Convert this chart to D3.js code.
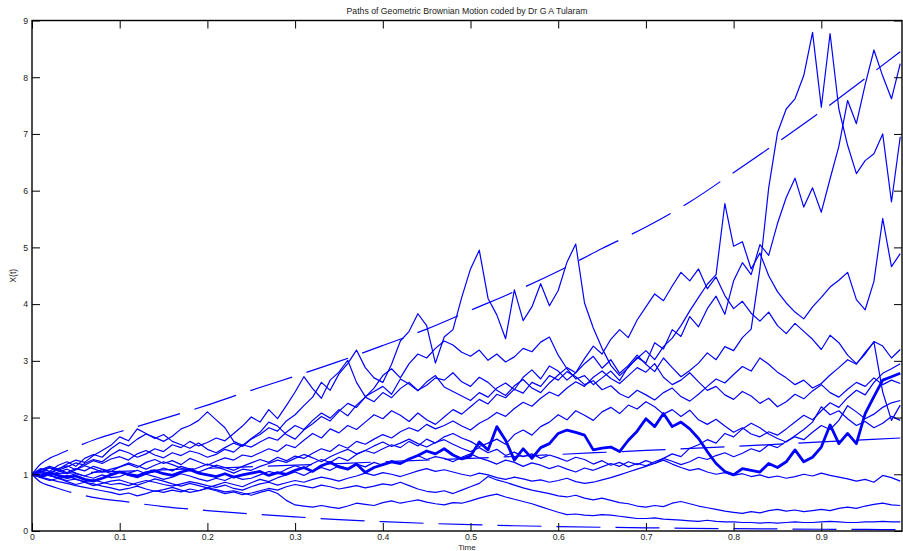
<!DOCTYPE html>
<html>
<head>
<meta charset="utf-8">
<script src="https://cdn.jsdelivr.net/npm/d3@7"></script>
<style>
  body { margin: 0; background: #ffffff; }
  #vis { width: 903px; height: 551px; overflow: hidden; }
</style>
</head>
<body>
<div id="vis"></div>
<script>
// sample step of every path (t = i * dt)
const dt = 0.01

// paths, one value per 0.01 of time
const pathThick = [
  1.00, 0.97, 1.03, 0.98, 0.94, 0.97, 0.91, 0.88, 0.93, 0.99,
  1.04, 1.00, 0.97, 1.03, 1.06, 1.01, 0.98, 1.04, 1.08, 1.02,
  0.99, 0.96, 1.01, 0.95, 0.99, 1.02, 1.05, 0.98, 1.03, 1.00,
  1.07, 1.12, 1.05, 1.15, 1.21, 1.13, 1.09, 1.18, 1.03, 1.12,
  1.17, 1.22, 1.19, 1.27, 1.33, 1.41, 1.36, 1.45, 1.34, 1.27,
  1.32, 1.57, 1.43, 1.84, 1.60, 1.25, 1.45, 1.28, 1.47, 1.54,
  1.72, 1.78, 1.74, 1.69, 1.43, 1.46, 1.48, 1.40, 1.60, 1.76,
  1.98, 1.84, 2.07, 1.84, 1.92, 1.80, 1.63, 1.40, 1.19, 1.05,
  0.99, 1.10, 1.07, 1.04, 1.19, 1.12, 1.22, 1.43, 1.22, 1.30,
  1.48, 1.87, 1.54, 1.72, 1.54, 2.07, 2.37, 2.66, 2.72, 2.78
]
const pathLowest = [
  1.00, 0.95, 0.91, 0.87, 0.84, 0.80, 0.77, 0.74, 0.71, 0.68,
  0.64, 0.67, 0.62, 0.66, 0.71, 0.68, 0.72, 0.69, 0.74, 0.71,
  0.76, 0.73, 0.69, 0.71, 0.67, 0.63, 0.68, 0.72, 0.66, 0.54,
  0.46, 0.44, 0.42, 0.45, 0.42, 0.40, 0.44, 0.49, 0.47, 0.45,
  0.50, 0.53, 0.49, 0.52, 0.55, 0.51, 0.48, 0.46, 0.50, 0.49,
  0.53, 0.58, 0.62, 0.65, 0.60, 0.56, 0.52, 0.48, 0.43, 0.38,
  0.33, 0.29, 0.30, 0.28, 0.27, 0.29, 0.28, 0.26, 0.24, 0.22,
  0.22, 0.23, 0.21, 0.20, 0.19, 0.18, 0.17, 0.19, 0.17, 0.16,
  0.16, 0.15, 0.15, 0.14, 0.15, 0.14, 0.15, 0.16, 0.15, 0.15,
  0.16, 0.17, 0.16, 0.15, 0.15, 0.16, 0.16, 0.17, 0.16, 0.16
]
const pathLow = [
  1.00, 0.96, 0.99, 0.93, 0.89, 0.92, 0.86, 0.83, 0.79, 0.76,
  0.72, 0.75, 0.79, 0.74, 0.70, 0.73, 0.77, 0.72, 0.68, 0.71,
  0.75, 0.71, 0.66, 0.69, 0.64, 0.67, 0.71, 0.75, 0.72, 0.78,
  0.82, 0.79, 0.76, 0.81, 0.78, 0.74, 0.77, 0.80, 0.76, 0.79,
  0.83, 0.81, 0.86, 0.80, 0.74, 0.70, 0.68, 0.71, 0.66, 0.72,
  0.78, 0.84, 0.96, 0.90, 0.86, 0.81, 0.76, 0.72, 0.69, 0.66,
  0.62, 0.60, 0.63, 0.58, 0.55, 0.58, 0.54, 0.50, 0.48, 0.44,
  0.42, 0.45, 0.43, 0.49, 0.52, 0.48, 0.44, 0.41, 0.38, 0.35,
  0.33, 0.31, 0.34, 0.32, 0.36, 0.38, 0.35, 0.37, 0.34, 0.36,
  0.38, 0.36, 0.40, 0.42, 0.40, 0.44, 0.47, 0.49, 0.46, 0.45
]
const pathNearOne = [
  1.00, 1.03, 0.97, 0.94, 0.98, 0.91, 0.87, 0.90, 0.86, 0.82,
  0.84, 0.80, 0.85, 0.89, 0.86, 0.82, 0.79, 0.83, 0.87, 0.84,
  0.80, 0.77, 0.81, 0.75, 0.72, 0.78, 0.83, 0.86, 0.81, 0.85,
  0.89, 0.86, 0.91, 0.95, 0.92, 0.88, 0.93, 0.97, 1.02, 0.98,
  1.03, 1.00, 0.96, 1.01, 1.06, 1.10, 1.05, 1.08, 1.04, 1.00,
  0.97, 1.02, 0.99, 0.94, 0.91, 0.95, 0.92, 0.88, 0.90, 0.86,
  0.89, 0.93, 0.87, 0.84, 0.86, 0.90, 0.94, 0.99, 1.04, 1.09,
  1.14, 1.19, 1.25, 1.18, 1.12, 1.07, 1.10, 1.04, 1.00, 1.03,
  0.98, 1.01, 0.96, 0.99, 0.94, 0.97, 0.93, 0.96, 1.00, 0.97,
  1.02, 0.98, 0.95, 0.92, 0.88, 0.91, 0.86, 0.98, 0.94, 0.88
]
const pathTop = [
  1.00, 1.08, 1.14, 1.09, 1.18, 1.25, 1.21, 1.33, 1.42, 1.51,
  1.66, 1.59, 1.80, 1.72, 1.63, 1.70, 1.58, 1.52, 1.46, 1.55,
  1.44, 1.38, 1.47, 1.55, 1.49, 1.62, 1.70, 1.82, 1.76, 1.94,
  2.05, 2.21, 2.36, 2.62, 2.48, 2.77, 2.95, 3.19, 2.88, 2.70,
  2.62, 2.94, 3.35, 3.52, 3.83, 3.62, 2.96, 3.42, 3.55, 4.12,
  4.62, 4.95, 4.10, 3.81, 3.39, 4.25, 3.71, 3.95, 4.36, 3.97,
  4.24, 4.74, 5.06, 4.02, 3.58, 3.22, 2.92, 2.74, 2.88, 3.06,
  2.96, 3.32, 3.21, 3.55, 3.43, 3.78, 3.60, 3.92, 4.14, 3.82,
  4.41, 4.73, 4.52, 5.05, 4.86, 5.42, 5.88, 6.22, 5.71, 6.05,
  5.62, 6.21, 6.78, 7.59, 7.18, 7.87, 8.48, 8.02, 7.62, 8.24
]
const pathSpike = [
  1.00, 1.06, 1.02, 1.10, 1.15, 1.08, 1.19, 1.26, 1.22, 1.34,
  1.43, 1.38, 1.30, 1.36, 1.45, 1.40, 1.52, 1.47, 1.58, 1.50,
  1.56, 1.64, 1.59, 1.72, 1.85, 2.01, 1.92, 2.14, 1.98, 2.21,
  2.45, 2.72, 2.51, 2.34, 2.66, 2.80, 3.01, 2.62, 2.37, 2.46,
  2.55, 2.41, 2.68, 2.59, 2.47, 2.63, 2.74, 2.54, 2.46, 2.38,
  2.30, 2.44, 2.36, 2.52, 2.61, 2.49, 2.71, 2.84, 2.68, 2.91,
  2.82, 2.66, 2.79, 2.95, 3.08, 2.87, 3.02, 2.78, 2.92, 3.10,
  2.94, 2.81, 3.05, 2.88, 2.72, 2.83, 2.96, 3.14, 3.02, 3.25,
  3.18, 3.41, 3.56, 4.62, 6.05, 7.02, 7.44, 7.62, 8.03, 8.79,
  7.47, 8.77, 7.44, 6.80, 6.30, 6.53, 6.65, 7.00, 5.80, 6.95
]
const pathMid1 = [
  1.00, 1.10, 1.05, 1.16, 1.22, 1.14, 1.28, 1.35, 1.30, 1.45,
  1.56, 1.50, 1.62, 1.71, 1.65, 1.58, 1.67, 1.80, 1.86, 1.95,
  2.10, 1.96, 1.82, 1.58, 1.51, 1.63, 1.74, 1.92, 1.85, 1.70,
  1.62, 1.78, 1.89, 2.02, 1.94, 2.11, 2.25, 2.18, 2.36, 2.52,
  2.74, 2.86, 2.70, 2.95, 3.12, 3.05, 3.22, 3.35, 3.28, 3.15,
  3.08, 3.19, 3.01, 3.12, 2.98, 3.07, 3.22, 3.16, 3.33, 3.42,
  3.10, 2.86, 2.68, 2.74, 2.58, 2.70, 2.82, 2.65, 2.90, 3.04,
  3.18, 3.02, 3.25, 3.40, 3.62, 3.88, 4.12, 4.35, 4.52, 5.77,
  5.02, 5.10, 4.62, 4.90, 4.50, 4.22, 4.02, 3.86, 3.74, 3.95,
  4.12, 4.30, 4.42, 4.56, 4.08, 3.90, 4.40, 5.51, 4.66, 4.89
]
const pathMid2 = [
  1.00, 1.04, 1.11, 1.07, 1.13, 1.20, 1.16, 1.24, 1.19, 1.27,
  1.31, 1.25, 1.36, 1.42, 1.34, 1.29, 1.38, 1.33, 1.41, 1.37,
  1.30, 1.35, 1.44, 1.39, 1.52, 1.48, 1.57, 1.65, 1.60, 1.74,
  1.86, 1.79, 1.95, 2.08, 1.99, 2.14, 2.03, 2.22, 2.36, 2.28,
  2.44, 2.35, 2.51, 2.62, 2.48, 2.57, 2.70, 2.66, 2.79, 2.63,
  2.55, 2.71, 2.62, 2.48, 2.39, 2.56, 2.67, 2.52, 2.44, 2.61,
  2.75, 2.88, 2.79, 3.04, 3.26, 3.12, 3.38, 3.55, 3.41, 3.72,
  3.95, 4.18, 4.06, 4.32, 4.56, 4.41, 4.62, 4.27, 4.48, 4.15,
  3.92, 4.05, 3.84, 3.70, 3.86, 3.62, 3.48, 3.66, 3.52, 3.38,
  3.20, 3.45, 3.32, 3.10, 2.95, 3.12, 3.34, 3.26, 3.05, 3.20
]
const pathMid3 = [
  1.00, 0.96, 1.02, 1.08, 1.03, 1.10, 1.06, 1.14, 1.09, 1.05,
  1.13, 1.18, 1.12, 1.21, 1.26, 1.19, 1.24, 1.17, 1.28, 1.22,
  1.16, 1.23, 1.29, 1.25, 1.34, 1.31, 1.38, 1.45, 1.40, 1.52,
  1.47, 1.60, 1.72, 1.64, 1.80, 1.73, 1.86, 1.79, 1.92, 2.05,
  1.98, 2.12, 2.04, 1.93, 2.08, 1.96, 1.88, 2.01, 2.14, 2.06,
  2.19, 2.32, 2.24, 2.41, 2.35, 2.50, 2.43, 2.62, 2.55, 2.74,
  2.66, 2.81, 2.72, 2.58, 2.65, 2.49, 2.56, 2.42, 2.35, 2.48,
  2.40, 2.31, 2.44, 2.52, 2.37, 2.29, 2.41, 2.55, 2.68, 2.61,
  2.76, 2.90, 2.82, 3.05, 2.94, 2.80, 2.70, 2.58, 2.66, 2.52,
  2.60, 2.75, 2.88, 3.02, 2.94, 3.15, 3.33, 2.45, 1.95, 2.22
]
const pathMid4 = [
  1.00, 0.95, 0.99, 0.92, 0.96, 1.01, 0.97, 0.93, 0.99, 0.94,
  0.96, 1.02, 1.07, 1.01, 1.05, 1.11, 1.06, 1.14, 1.09, 1.04,
  1.10, 1.16, 1.12, 1.07, 1.14, 1.20, 1.26, 1.21, 1.30, 1.24,
  1.32, 1.28, 1.37, 1.45, 1.40, 1.52, 1.46, 1.58, 1.53, 1.62,
  1.70, 1.64, 1.75, 1.82, 1.76, 1.88, 1.80, 1.86, 1.94, 1.85,
  1.78, 1.90, 1.98, 2.09, 2.02, 2.16, 2.27, 2.20, 2.34, 2.45,
  2.38, 2.52, 2.63, 2.55, 2.71, 2.82, 2.69, 2.60, 2.74, 2.88,
  2.80, 2.95, 2.71, 2.58, 2.66, 2.79, 2.63, 2.48, 2.55, 2.40,
  2.32, 2.46, 2.38, 2.25, 2.34, 2.19, 2.28, 2.41, 2.33, 2.47,
  2.58, 2.44, 2.36, 2.50, 2.62, 2.55, 2.70, 2.58, 2.66, 2.60
]
const pathMid5 = [
  1.00, 1.05, 0.99, 1.04, 1.09, 1.02, 0.97, 1.03, 1.08, 1.01,
  1.04, 0.98, 0.94, 1.00, 0.96, 0.91, 0.95, 1.01, 0.97, 0.92,
  0.88, 0.93, 0.89, 0.96, 0.91, 0.93, 0.99, 1.05, 1.01, 1.09,
  1.15, 1.10, 1.19, 1.26, 1.21, 1.30, 1.24, 1.35, 1.42, 1.37,
  1.45, 1.52, 1.47, 1.58, 1.50, 1.62, 1.55, 1.66, 1.72, 1.64,
  1.58, 1.49, 1.55, 1.62, 1.53, 1.70, 1.78, 1.69, 1.84, 1.92,
  2.05, 1.96, 2.12, 2.04, 1.95, 2.10, 2.18, 2.07, 2.22, 2.15,
  2.28, 2.19, 2.06, 2.14, 2.02, 2.13, 1.96, 1.88, 1.97, 1.85,
  1.74, 1.82, 1.71, 1.66, 1.75, 1.69, 1.80, 1.92, 2.04, 1.96,
  2.12, 2.26, 2.18, 2.35, 2.48, 2.40, 2.62, 2.78, 2.86, 2.95
]
const pathMid6 = [
  1.00, 1.07, 1.12, 1.06, 1.01, 1.08, 1.15, 1.10, 1.04, 1.09,
  1.13, 1.20, 1.15, 1.09, 1.16, 1.22, 1.17, 1.11, 1.06, 1.12,
  1.18, 1.13, 1.08, 1.02, 1.09, 1.07, 1.14, 1.19, 1.25, 1.21,
  1.28, 1.35, 1.29, 1.22, 1.31, 1.38, 1.44, 1.36, 1.42, 1.50,
  1.57, 1.49, 1.55, 1.62, 1.54, 1.48, 1.56, 1.61, 1.53, 1.46,
  1.40, 1.47, 1.38, 1.44, 1.33, 1.39, 1.31, 1.36, 1.28, 1.34,
  1.29, 1.23, 1.30, 1.26, 1.18, 1.24, 1.16, 1.21, 1.13, 1.19,
  1.15, 1.22, 1.28, 1.36, 1.31, 1.46, 1.52, 1.61, 1.55, 1.72,
  1.66, 1.80, 1.90, 1.82, 1.71, 1.63, 1.57, 1.68, 1.79, 1.92,
  2.19, 2.05, 2.12, 1.98, 1.86, 1.93, 1.82, 1.90, 2.02, 1.95
]
const pathMid7 = [
  1.00, 0.94, 0.89, 0.93, 0.87, 0.82, 0.86, 0.80, 0.84, 0.88,
  0.90, 0.85, 0.81, 0.86, 0.92, 0.88, 0.83, 0.79, 0.84, 0.80,
  0.76, 0.81, 0.86, 0.82, 0.78, 0.85, 0.91, 0.87, 0.94, 0.99,
  1.04, 0.98, 1.06, 1.12, 1.07, 1.15, 1.10, 1.18, 1.13, 1.21,
  1.16, 1.24, 1.19, 1.27, 1.33, 1.26, 1.31, 1.28, 1.22, 1.30,
  1.36, 1.29, 1.24, 1.18, 1.25, 1.21, 1.14, 1.20, 1.16, 1.10,
  1.15, 1.09, 1.04, 1.11, 1.07, 1.13, 1.19, 1.14, 1.22, 1.17,
  1.24, 1.19, 1.28, 1.23, 1.17, 1.22, 1.30, 1.26, 1.33, 1.38,
  1.31, 1.37, 1.45, 1.40, 1.52, 1.47, 1.58, 1.66, 1.61, 1.74,
  1.86, 1.79, 1.95, 2.21, 2.10, 1.98, 2.06, 2.18, 2.26, 2.30
]

// dashed curves: upper bound, mean and lower bound
const boundTimes = [0, 0.01, 0.02, 0.03, 0.05, 0.075, 0.1, 0.15, 0.2, 0.25, 0.3, 0.35, 0.4,
  0.45, 0.5, 0.55, 0.6, 0.65, 0.7, 0.75, 0.8, 0.85, 0.9, 0.95, 0.99]
const upperBound = [1.0, 1.18, 1.28, 1.35, 1.48, 1.63, 1.75, 1.98, 2.22, 2.48, 2.73, 2.99, 3.27,
  3.56, 3.89, 4.22, 4.58, 4.98, 5.36, 5.80, 6.32, 6.85, 7.40, 7.98, 8.45]
const lowerBound = [1.0, 0.86, 0.80, 0.75, 0.66, 0.58, 0.53, 0.43, 0.36, 0.30, 0.25, 0.20, 0.165,
  0.135, 0.112, 0.093, 0.078, 0.066, 0.056, 0.048, 0.041, 0.036, 0.031, 0.027, 0.024]
const meanTimes = [0, 0.1, 0.2, 0.3, 0.4, 0.5, 0.6, 0.7, 0.8, 0.9, 0.99]
const meanCurve = [1.0, 1.05, 1.105, 1.16, 1.22, 1.28, 1.35, 1.42, 1.49, 1.57, 1.64]

const xTicks = [0, 0.1, 0.2, 0.3, 0.4, 0.5, 0.6, 0.7, 0.8, 0.9]
const yTicks = [0, 1, 2, 3, 4, 5, 6, 7, 8, 9]

var thinPaths = [pathLowest, pathLow, pathNearOne, pathMid7, pathMid6, pathMid5, pathMid4,
  pathMid3, pathMid2, pathMid1, pathSpike, pathTop]

// plot box in page pixels
var margin = { top: 20.5, right: 1, bottom: 20, left: 32 },
    width = 903 - margin.left - margin.right,
    height = 551 - margin.top - margin.bottom;

var fontSize = "8.7px";

var svg = d3.select("#vis")
  .append("svg")
    .attr("width", 903)
    .attr("height", 551)
    .style("font-family", "'Liberation Sans', Arial, sans-serif");

var x = d3.scaleLinear()
    .domain([0, 0.992])
    .range([margin.left, margin.left + width]);

var y = d3.scaleLinear()
    .domain([0, 9])
    .range([margin.top + height, margin.top]);

svg.append("clipPath")
    .attr("id", "plotClip")
  .append("rect")
    .attr("x", margin.left)
    .attr("y", margin.top)
    .attr("width", width)
    .attr("height", height);

var plot = svg.append("g").attr("clip-path", "url(#plotClip)");

var pathLine = d3.line()
    .x((d, i) => x(i * dt))
    .y(d => y(d));

plot.selectAll(".thin")
  .data(thinPaths)
  .enter()
  .append("path")
    .attr("class", "thin")
    .attr("d", pathLine)
    .attr("fill", "none")
    .attr("stroke", "#0000ff")
    .attr("stroke-width", 1.2)
    .attr("stroke-linejoin", "round");

plot.append("path")
    .attr("d", pathLine(pathThick))
    .attr("fill", "none")
    .attr("stroke", "#0000ff")
    .attr("stroke-width", 2.8)
    .attr("stroke-linejoin", "round");

// dashed bounds
var boundLine = function (times) {
  return d3.line()
    .x((d, i) => x(times[i]))
    .y(d => y(d))
    .curve(d3.curveMonotoneX);
}

plot.selectAll(".bound")
  .data([
    { t: boundTimes, v: upperBound },
    { t: boundTimes, v: lowerBound },
    { t: meanTimes, v: meanCurve }
  ])
  .enter()
  .append("path")
    .attr("class", "bound")
    .attr("d", d => boundLine(d.t)(d.v))
    .attr("fill", "none")
    .attr("stroke", "#0000ff")
    .attr("stroke-width", 1.2)
    .attr("stroke-dasharray", "44,15");

// axes, ticks pointing inward on all four sides
var tickLen = 8;

svg.append("g")
    .attr("transform", "translate(0," + (margin.top + height) + ")")
    .call(d3.axisBottom(x).tickValues(xTicks).tickSizeInner(-tickLen).tickSizeOuter(0)
      .tickPadding(3).tickFormat(d => d))
    .call(g => g.select(".domain").remove());

svg.append("g")
    .attr("transform", "translate(0," + margin.top + ")")
    .call(d3.axisTop(x).tickValues(xTicks).tickSizeInner(-tickLen).tickSizeOuter(0)
      .tickFormat(""))
    .call(g => g.select(".domain").remove());

svg.append("g")
    .attr("transform", "translate(" + margin.left + ",0)")
    .call(d3.axisLeft(y).tickValues(yTicks).tickSizeInner(-tickLen).tickSizeOuter(0)
      .tickPadding(4).tickFormat(d => d))
    .call(g => g.select(".domain").remove());

svg.append("g")
    .attr("transform", "translate(" + (margin.left + width) + ",0)")
    .call(d3.axisRight(y).tickValues(yTicks).tickSizeInner(-tickLen).tickSizeOuter(0)
      .tickFormat(""))
    .call(g => g.select(".domain").remove());

svg.selectAll(".tick line").attr("stroke", "#000").attr("stroke-width", 1);
svg.selectAll(".tick text")
    .attr("fill", "#222")
    .style("font-size", fontSize)
    .style("font-family", "'Liberation Sans', Arial, sans-serif");

// box
svg.append("rect")
    .attr("x", margin.left)
    .attr("y", margin.top)
    .attr("width", width)
    .attr("height", height)
    .attr("fill", "none")
    .attr("stroke", "#000")
    .attr("stroke-width", 1.4);

// title and axis labels
svg.append("text")
    .attr("x", (margin.left + margin.left + width) / 2)
    .attr("y", 14)
    .attr("text-anchor", "middle")
    .style("font-size", fontSize)
    .attr("fill", "#222")
    .text("Paths of Geometric Brownian Motion coded by Dr G A Tularam");

svg.append("text")
    .attr("x", (margin.left + margin.left + width) / 2)
    .attr("y", 550)
    .attr("text-anchor", "middle")
    .style("font-size", "8px")
    .attr("fill", "#222")
    .text("Time");

svg.append("text")
    .attr("transform", "translate(16," + (margin.top + height / 2) + ") rotate(-90)")
    .attr("text-anchor", "middle")
    .style("font-size", fontSize)
    .attr("fill", "#222")
    .text("X(t)");
</script>
</body>
</html>
